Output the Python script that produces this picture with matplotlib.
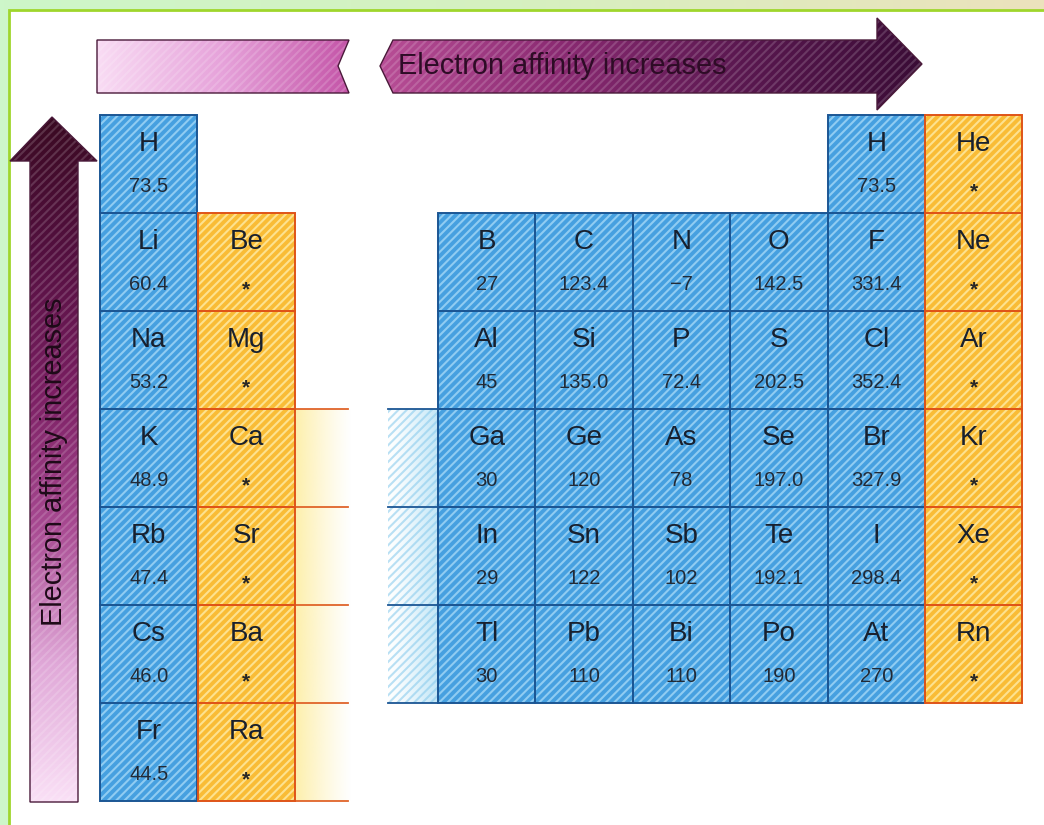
import numpy as np
import matplotlib.pyplot as plt
from matplotlib.patches import Rectangle, Polygon
from matplotlib.colors import to_rgb, LinearSegmentedColormap

plt.rcParams['font.family'] = ['Liberation Sans', 'DejaVu Sans']
plt.rcParams['hatch.linewidth'] = 1.5

# electron affinities (kJ/mol), '*' = no stable anion
group1 = ['H', 'Li', 'Na', 'K', 'Rb', 'Cs', 'Fr']
group1_ea = ['73.5', '60.4', '53.2', '48.9', '47.4', '46.0', '44.5']
group2 = ['Be', 'Mg', 'Ca', 'Sr', 'Ba', 'Ra']
p_block = [['B', 'C', 'N', 'O', 'F'],
           ['Al', 'Si', 'P', 'S', 'Cl'],
           ['Ga', 'Ge', 'As', 'Se', 'Br'],
           ['In', 'Sn', 'Sb', 'Te', 'I'],
           ['Tl', 'Pb', 'Bi', 'Po', 'At']]
p_block_ea = [['27', '123.4', '\u22127', '142.5', '331.4'],
              ['45', '135.0', '72.4', '202.5', '352.4'],
              ['30', '120', '78', '197.0', '327.9'],
              ['29', '122', '102', '192.1', '298.4'],
              ['30', '110', '110', '190', '270']]
noble = ['He', 'Ne', 'Ar', 'Kr', 'Xe', 'Rn']
label = 'Electron affinity increases'

# layout (pixels)
W, H = 1044, 825
CW, CH = 97.4, 98.0
ROW0 = 115
G1X, G2X, PX = 100, 197.5, 438


def row_y(period):
    return ROW0 + (period - 1) * CH


BLUE = dict(face='#46a0e0', hatch='#90ccf2', edge='#1b5694')
YELLOW = dict(face='#f9bc36', hatch='#fde290', edge='#df5418')

fig = plt.figure(figsize=(W / 100, H / 100), dpi=100, facecolor='#cdf6c9')
ax = fig.add_axes([0, 0, 1, 1])
ax.set_xlim(0, W)
ax.set_ylim(H, 0)
ax.axis('off')

# top band fades to tan on the right
band = LinearSegmentedColormap.from_list('band', ['#cdf6c9', '#d6f0c0', '#ece2bc'])
ax.imshow(band(np.linspace(0, 1, 256))[None, :, :], extent=(0, W, 10, 0), aspect='auto', zorder=0)
# white page with green border
ax.add_patch(Rectangle((9, 10), W, H, facecolor='white', edgecolor='#9fd62c', lw=2, zorder=0.5))


def gradient(poly_pts, colors, vertical=False, zorder=1):
    poly = Polygon(poly_pts, closed=True, facecolor='none', edgecolor='#4a1a3a', lw=1.0, zorder=zorder + 1)
    ax.add_patch(poly)
    xs = [p[0] for p in poly_pts]
    ys = [p[1] for p in poly_pts]
    cmap = LinearSegmentedColormap.from_list('g', colors)
    cols = cmap(np.linspace(0, 1, 256))
    img = cols[:, None, :] if vertical else cols[None, :, :]
    im = ax.imshow(img, extent=(min(xs), max(xs), max(ys), min(ys)), aspect='auto', zorder=zorder)
    im.set_clip_path(poly)
    # fine diagonal texture like the print
    ax.add_patch(Polygon(poly_pts, closed=True, facecolor='none', edgecolor=(1, 1, 1, 0.16), lw=0,
                         hatch='////', zorder=zorder + 0.5))


# top arrow: pale tail piece + dark arrow
gradient([(97, 40), (349, 40), (338, 66), (349, 93), (97, 93)], ['#f9dcf4', '#e6a2da', '#c455a8'])
gradient([(380, 66), (393, 40), (877, 40), (877, 18), (922, 64), (877, 110), (877, 93), (393, 93)],
         ['#b84e96', '#8a2a72', '#5a1850', '#3a0c36'])
ax.text(398, 66, label, fontsize=20.8, color='#2e0c26', ha='left', va='center', zorder=5)

# left vertical arrow (dark at the top)
gradient([(30, 802), (30, 161), (10, 161), (52, 117), (97, 161), (78, 161), (78, 802)],
         ['#3a0a22', '#541040', '#7a1e62', '#a84a92', '#e0a8d8', '#fae0f6'], vertical=True)
ax.text(54, 462, label, fontsize=20.8, color='#1e0a18', rotation=90, ha='center', va='center', zorder=5)


def cell(x, y, sym, val, style):
    ax.add_patch(Rectangle((x, y), CW, CH, facecolor=style['face'], edgecolor='none', zorder=2))
    ax.add_patch(Rectangle((x, y), CW, CH, facecolor='none', edgecolor=style['hatch'], lw=0,
                           hatch='////', zorder=2.5))
    ax.add_patch(Rectangle((x, y), CW, CH, fill=False, edgecolor=style['edge'], lw=1.4, zorder=3))
    ax.text(x + CW / 2, y + 29, sym, fontsize=20, color='#18202e', ha='center', va='center', zorder=4)
    if val == '*':
        ax.text(x + CW / 2, y + 77, '*', fontsize=15, color='#262626', ha='center', va='center',
                fontweight='bold', zorder=4)
    else:
        ax.text(x + CW / 2, y + 72, val, fontsize=14.5, color='#222a36', ha='center', va='center', zorder=4)


# fading strips where the transition metals are cut away
t = np.linspace(0, 1, 128)
yfade = np.zeros((1, 128, 4))
yfade[..., :3] = to_rgb('#fde98a')
yfade[..., 3] = 0.7 * (1 - t) ** 1.2
ax.imshow(yfade, extent=(296, 352, row_y(7) + CH, row_y(4)), aspect='auto', zorder=1)
bfade = np.zeros((1, 128, 4))
bfade[..., :3] = to_rgb('#a8dcf4')
bfade[..., 3] = 0.7 * t ** 1.3
ax.imshow(bfade, extent=(388, PX, row_y(6) + CH, row_y(4)), aspect='auto', zorder=1)
ax.add_patch(Rectangle((388, row_y(4)), PX - 388, 3 * CH, facecolor='none', edgecolor=(0.55, 0.8, 0.93, 0.6),
                       lw=0, hatch='////', zorder=1.5))
for p in range(4, 9):
    ax.plot([G2X + CW, 348], [row_y(p), row_y(p)], color='#e0642a', lw=1.3, zorder=3)
for p in range(4, 8):
    ax.plot([388, PX], [row_y(p), row_y(p)], color='#1b5694', lw=1.3, zorder=3)

# s-block
for i, (sym, val) in enumerate(zip(group1, group1_ea)):
    cell(G1X, row_y(i + 1), sym, val, BLUE)
for i, sym in enumerate(group2):
    cell(G2X, row_y(i + 2), sym, '*', YELLOW)

# p-block
for r, (syms, vals) in enumerate(zip(p_block, p_block_ea)):
    for c, (sym, val) in enumerate(zip(syms, vals)):
        cell(PX + c * CW, row_y(r + 2), sym, val, BLUE)
cell(PX + 4 * CW, row_y(1), group1[0], group1_ea[0], BLUE)
for i, sym in enumerate(noble):
    cell(PX + 5 * CW, row_y(i + 1), sym, '*', YELLOW)

ax.set_xlim(0, W)
ax.set_ylim(H, 0)
fig.savefig('out.png', dpi=100, facecolor=fig.get_facecolor())
